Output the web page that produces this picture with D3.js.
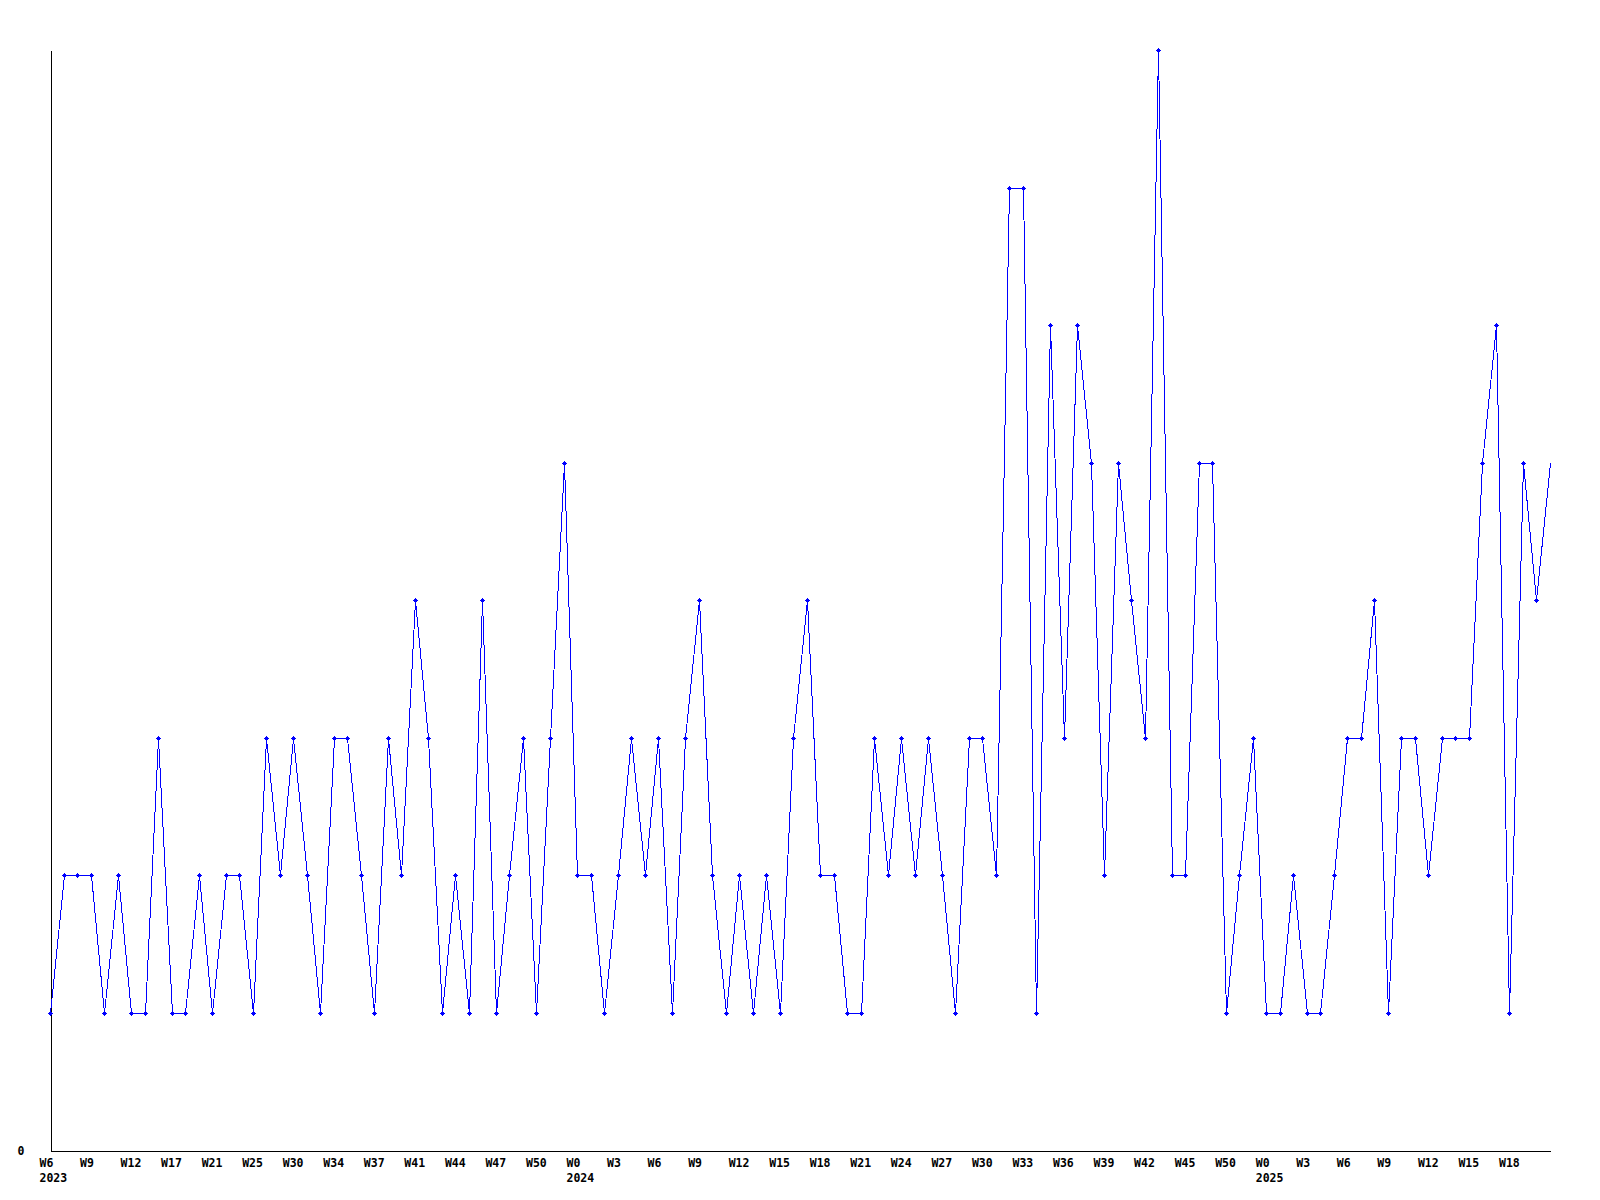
<!DOCTYPE html>
<html>
<head>
<meta charset="utf-8">
<script src="https://cdn.jsdelivr.net/npm/d3@7"></script>
<style>
  html, body { margin: 0; padding: 0; background: #ffffff; }
  svg { display: block; }
  .lbl { font-family: "DejaVu Sans Mono", "Liberation Mono", monospace; font-weight: bold; font-size: 11.5px; fill: #000; }
</style>
</head>
<body>
<svg id="chart" width="1600" height="1200"></svg>
<script>
// ---- data ----
const values = [
  1,2,2,2,1,2,1,1,3,1,1,2,1,2,2,1,3,2,3,2,1,3,3,2,
  1,3,2,4,3,1,2,1,4,1,2,3,1,3,5,2,2,1,2,3,2,3,
  1,3,4,2,1,2,1,2,1,3,4,2,2,1,1,3,2,3,2,3,2,1,
  3,3,2,7,7,1,6,3,6,5,2,5,4,3,8,2,2,5,5,1,2,3,1,
  1,2,1,1,2,3,3,4,1,3,3,2,3,3,3,5,6,1,5,4,5
];
// one week label every 3rd point
const weekLabels = [
  "W6","W9","W12","W17","W21","W25","W30","W34","W37","W41","W44","W47","W50",
  "W0","W3","W6","W9","W12","W15","W18","W21","W24","W27","W30","W33","W36","W39","W42","W45","W50",
  "W0","W3","W6","W9","W12","W15","W18"
];
const labelEvery = 3;
const yearLabels = ["2023","2024","2025"];
const yearLabelAt = [0, 13, 30];   // index into weekLabels
const yTicks = [0];
const yMax = 8;

(function () {
  const svg = d3.select("#chart");
  const mLeft = 50, mRight = 1550, mTop = 50, mBottom = 1150;
  const labelShift = -10.5;

  const x = d3.scaleLinear().domain([0, values.length - 1]).range([mLeft, mRight]);
  const y = d3.scaleLinear().domain([0, yMax]).range([mBottom, mTop]);

  // axes
  const gy = svg.append("g").attr("transform", `translate(${mLeft + 0.5},0.5)`)
    .call(d3.axisLeft(y).tickValues(yTicks).tickSize(0).tickSizeOuter(0).tickPadding(26).tickFormat(d3.format("d")));
  gy.select(".domain").attr("stroke", "#000").attr("shape-rendering", "crispEdges");
  gy.attr("font-family", null).attr("font-size", null);
  gy.selectAll("text").attr("class", "lbl");

  const gx = svg.append("g").attr("transform", `translate(0.5,${mBottom + 0.5})`)
    .call(d3.axisBottom(x).tickValues([]).tickSizeOuter(0));
  gx.select(".domain").attr("stroke", "#000").attr("shape-rendering", "crispEdges");

  // week labels
  svg.append("g").selectAll("text").data(weekLabels).join("text")
    .attr("class", "lbl")
    .attr("x", (d, i) => x(i * labelEvery) + labelShift)
    .attr("y", 1167)
    .attr("text-anchor", "start")
    .text(d => d);

  // year labels
  svg.append("g").selectAll("text").data(yearLabels).join("text")
    .attr("class", "lbl")
    .attr("x", (d, i) => x(yearLabelAt[i] * labelEvery) + labelShift)
    .attr("y", 1182)
    .attr("text-anchor", "start")
    .text(d => d);

  // line
  const line = d3.line().x((d, i) => Math.round(x(i)) + 0.5).y(d => Math.round(y(d)) + 0.5);
  svg.append("path").datum(values)
    .attr("d", line)
    .attr("fill", "none")
    .attr("stroke", "#0000ff")
    .attr("stroke-width", 1)
    .attr("shape-rendering", "crispEdges");

  // markers (small bold crosses)
  const cross = "M-2,0H3V1H-2Z M0,-2H1V3H0Z M-1,-1H2V2H-1Z";
  svg.append("g").selectAll("path").data(values.slice(0, values.length - 1)).join("path")
    .attr("transform", (d, i) => `translate(${Math.round(x(i))},${Math.round(y(d))})`)
    .attr("d", cross)
    .attr("fill", "#0000ff")
    .attr("shape-rendering", "crispEdges");
})();
</script>
</body>
</html>
